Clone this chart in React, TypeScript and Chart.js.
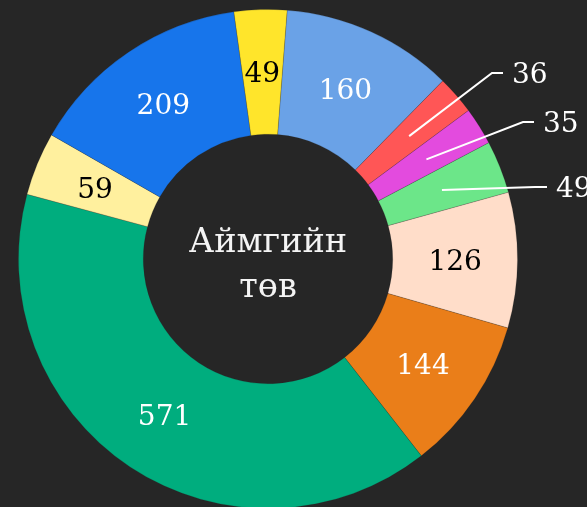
import React, { useEffect, useRef } from "react";
import { Chart, registerables } from "chart.js";

Chart.register(...registerables);

const categories = ["A", "B", "C", "D", "E", "F", "G", "H", "I", "J"];
const values = [160, 36, 35, 49, 126, 144, 571, 59, 209, 49];
const colors = [
  "#6aa2e7",
  "#ff5656",
  "#e34bde",
  "#6ce689",
  "#ffddc9",
  "#ea7e19",
  "#00ad7e",
  "#fff09e",
  "#1775eb",
  "#ffe52b",
];
const labelColors = ["#fff", "#fff", "#fff", "#fff", "#000", "#fff", "#fff", "#000", "#fff", "#000"];
const centerLines = ["Аймгийн", "төв"];
// leader-line elbows (relative to chart centre) for small slices labelled outside
const outside: Record<number, { ex: number; ey: number; len: number }> = {
  1: { ex: 224, ey: -186, len: 11 },
  2: { ex: 255, ey: -137, len: 11 },
  3: { ex: 267, ey: -72, len: 12 },
};

const BG = "#262626";
const NUM_FONT = '28px "DejaVu Serif", serif';
const CENTER_FONT = '33.5px "DejaVu Serif", serif';

const labelPlugin = {
  id: "sliceLabels",
  afterDatasetsDraw(chart: any) {
    const ctx = chart.ctx;
    const meta = chart.getDatasetMeta(0);
    ctx.save();
    meta.data.forEach((arc: any, i: number) => {
      const { x, y, startAngle, endAngle, innerRadius, outerRadius } = arc.getProps(
        ["x", "y", "startAngle", "endAngle", "innerRadius", "outerRadius"],
        true
      );
      const mid = (startAngle + endAngle) / 2;
      const r = (innerRadius + outerRadius) / 2;
      const px = x + Math.cos(mid) * r;
      const py = y + Math.sin(mid) * r;
      ctx.font = NUM_FONT;
      ctx.textBaseline = "middle";
      const o = outside[i];
      if (o) {
        const ex = x + o.ex;
        const ey = y + o.ey;
        ctx.strokeStyle = "#ffffff";
        ctx.lineWidth = 2;
        ctx.beginPath();
        ctx.moveTo(px, py);
        ctx.lineTo(ex, ey);
        ctx.lineTo(ex + o.len, ey);
        ctx.stroke();
        ctx.fillStyle = "#ffffff";
        ctx.textAlign = "left";
        ctx.fillText(String(values[i]), ex + o.len + 9, ey + 3);
      } else {
        ctx.fillStyle = labelColors[i];
        ctx.textAlign = "center";
        ctx.fillText(String(values[i]), px, py + 3);
      }
    });
    const a = meta.data[0];
    ctx.fillStyle = "#f4f4f4";
    ctx.font = CENTER_FONT;
    ctx.textAlign = "center";
    ctx.textBaseline = "alphabetic";
    ctx.fillText(centerLines[0], a.x, a.y - 7);
    ctx.fillText(centerLines[1], a.x, a.y + 38);
    ctx.restore();
  },
};

export default function App() {
  const ref = useRef<HTMLCanvasElement>(null);
  useEffect(() => {
    document.body.style.margin = "0";
    document.body.style.background = BG;
    const chart = new Chart(ref.current!, {
      type: "doughnut",
      data: {
        labels: categories,
        datasets: [
          {
            data: values,
            backgroundColor: colors,
            borderColor: "rgba(38,38,38,0.18)",
            borderWidth: 1,
          },
        ],
      },
      options: {
        responsive: false,
        animation: false,
        rotation: 4.4,
        cutout: "50%",
        layout: { padding: { left: 18, right: 69, top: 9, bottom: 11 } },
        plugins: {
          legend: { display: false },
          tooltip: { enabled: false },
        },
      },
      plugins: [labelPlugin],
    });
    return () => chart.destroy();
  }, []);
  return (
    <div style={{ width: 587, height: 507, overflow: "hidden", background: BG }}>
      <canvas ref={ref} width={587} height={520} />
    </div>
  );
}
